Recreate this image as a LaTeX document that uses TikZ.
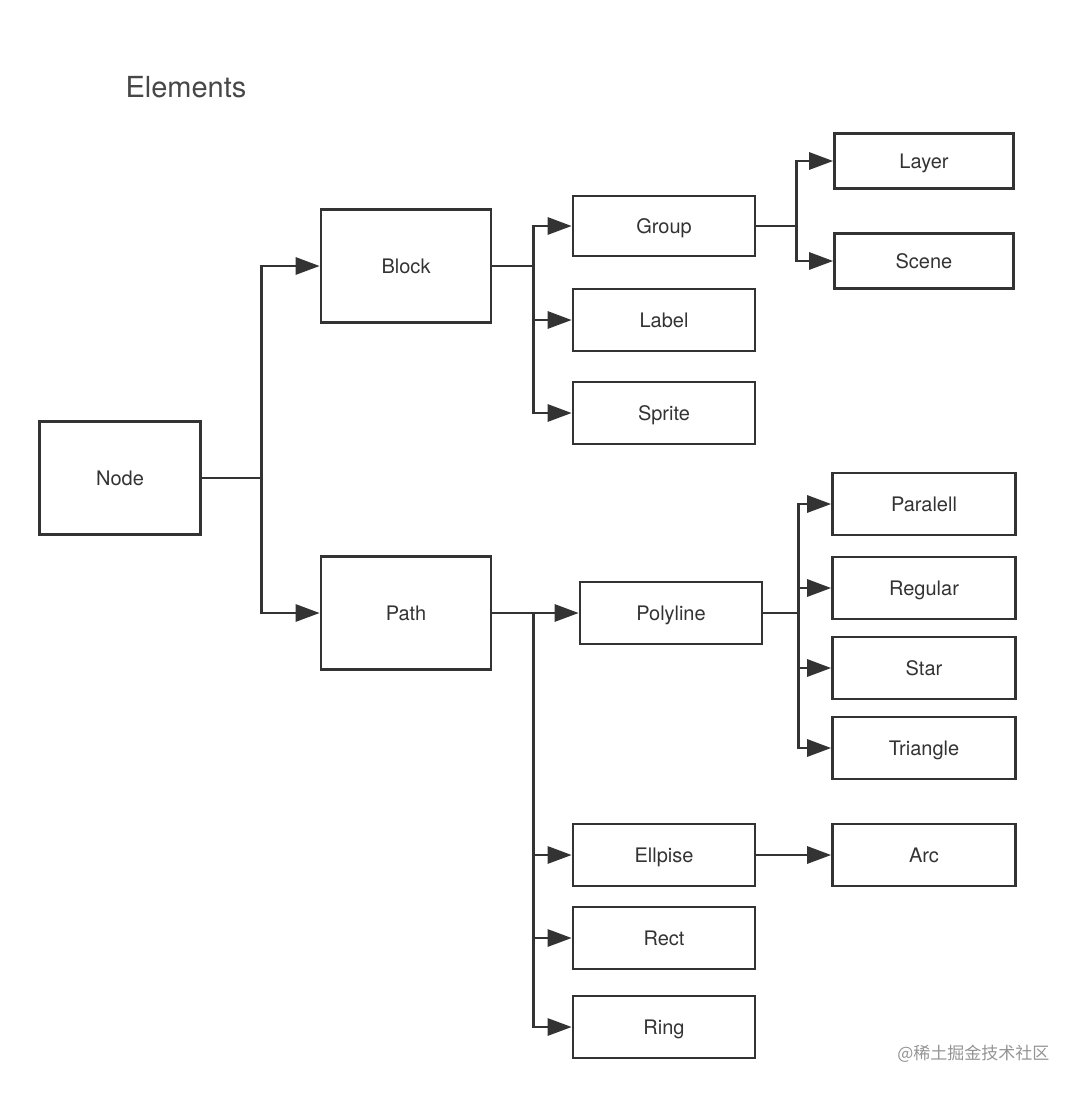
\documentclass[tikz,border=0pt]{standalone}
\usepackage{fontspec}
\setmainfont{TeX Gyre Heros}
\newfontfamily\cjk{Noto Sans CJK SC}
\usetikzlibrary{arrows.meta}
\definecolor{ink}{HTML}{333333}
\begin{document}
\begin{tikzpicture}[x=1pt,y=-1pt,
	box/.style={draw=ink,line width=2.6pt,text=ink,font=\fontsize{20}{24}\selectfont,
		text height=14pt,text depth=0pt,
		minimum width=182pt,minimum height=62pt,inner sep=0pt},
	bigbox/.style={box,minimum width=170pt,minimum height=113pt},
	arr/.style={draw=ink,line width=2.8pt,-{Triangle[length=24pt,width=17pt]}}]
	\useasboundingbox (0,0) rectangle (1080,1093);
	\node[text=ink!90,font=\fontsize{29}{34}\selectfont,anchor=west] (title) at (122,87) {Elements};
	% first level
	\node[bigbox,minimum width=161pt] (node) at (120,478) {Node};
	\node[bigbox] (block) at (406,266) {Block};
	\node[bigbox] (path) at (406,613) {Path};
	% block children
	\node[box,minimum height=60pt] (group) at (664,226) {Group};
	\node[box] (label) at (664,320) {Label};
	\node[box] (sprite) at (664,413) {Sprite};
	\node[box,minimum width=179pt,minimum height=55pt] (layer) at (924,161) {Layer};
	\node[box,minimum width=179pt,minimum height=55pt] (scene) at (924,261) {Scene};
	% path children
	\node[box] (polyline) at (671,613) {Polyline};
	\node[box,minimum width=183pt] (paralell) at (924,504) {Paralell};
	\node[box,minimum width=183pt] (regular) at (924,588) {Regular};
	\node[box,minimum width=183pt] (star) at (924,668) {Star};
	\node[box,minimum width=183pt] (triangle) at (924,748) {Triangle};
	\node[box] (ellpise) at (664,855) {Ellpise};
	\node[box,minimum width=183pt] (arc) at (924,855) {Arc};
	\node[box] (rect) at (664,938) {Rect};
	\node[box] (ring) at (664,1027) {Ring};
	% connectors
	\draw[arr] (node.east) -- ++(60,0) |- (block.west);
	\draw[arr] (node.east) -- ++(60,0) |- (path.west);
	\foreach \n in {group,label,sprite}
		\draw[arr] (block.east) -- ++(41,0) |- (\n.west);
	\foreach \n in {layer,scene}
		\draw[arr] (group.east) -- ++(40,0) |- (\n.west);
	\draw[arr] (path.east) -- (polyline.west);
	\foreach \n in {ellpise,rect,ring}
		\draw[arr] (path.east) -- ++(41,0) |- (\n.west);
	\foreach \n in {paralell,regular,star,triangle}
		\draw[arr] (polyline.east) -- ++(35,0) |- (\n.west);
	\draw[arr] (ellpise.east) -- (arc.west);
	% watermark
	\node[text=black!42,font=\cjk\fontsize{17}{20}\selectfont,anchor=east] (mark) at (1053,1054) {@稀土掘金技术社区};
\end{tikzpicture}
\end{document}
